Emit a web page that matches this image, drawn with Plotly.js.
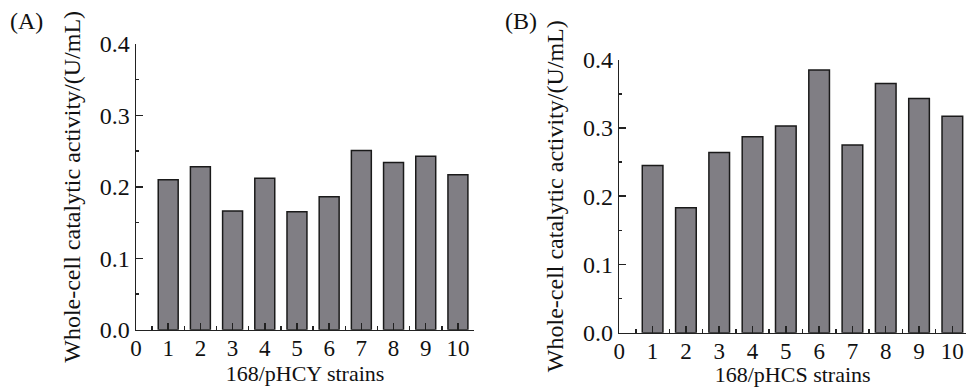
<!DOCTYPE html>
<html>
<head>
<meta charset="utf-8">
<script src="https://cdn.plot.ly/plotly-3.0.1.min.js"></script>
<style>html,body{margin:0;padding:0;background:#fff;}#chart{width:966px;height:387px;}</style>
</head>
<body>
<div id="chart"></div>
<script>
const strains = [1, 2, 3, 4, 5, 6, 7, 8, 9, 10];
const activityA = [0.210, 0.228, 0.166, 0.212, 0.165, 0.186, 0.251, 0.234, 0.243, 0.217];
const activityB = [0.245, 0.183, 0.264, 0.287, 0.303, 0.385, 0.275, 0.365, 0.343, 0.317];
const xTitleA = "168/pHCY strains";
const xTitleB = "168/pHCS strains";
const yTitle = "Whole-cell catalytic activity/(U/mL)";
const panelLabels = ["(A)", "(B)"];

const FONT = "Liberation Serif, Times New Roman, serif";
const barStyle = {color: "#807e84", line: {color: "#1a1a1a", width: 1.5}};

const traces = [
  {type: "bar", x: strains, y: activityA, width: 0.62, marker: barStyle, xaxis: "x", yaxis: "y", hoverinfo: "x+y"},
  {type: "bar", x: strains, y: activityB, width: 0.62, marker: barStyle, xaxis: "x2", yaxis: "y2", hoverinfo: "x+y"}
];

function xAxis(domain, range, title) {
  return {
    domain: domain, range: range, tickmode: "linear", tick0: 0, dtick: 1,
    ticks: "inside", ticklen: 7, tickwidth: 1.5, tickcolor: "#222",
    minor: {dtick: 0.5, tick0: 0, ticks: "inside", ticklen: 4, tickwidth: 1.5, tickcolor: "#222"},
    showline: true, linecolor: "#222", linewidth: 1.5, showgrid: false, zeroline: false,
    tickfont: {family: FONT, size: 23, color: "#111"},
    ticklabelstandoff: -3,
    title: {text: title, font: {family: FONT, size: 22, color: "#111"}, standoff: 4},
    fixedrange: true
  };
}
function yAxis(domain, anchor) {
  return {
    domain: domain, range: [0, 0.4], tickmode: "linear", tick0: 0, dtick: 0.1, tickformat: ".1f",
    anchor: anchor,
    ticks: "inside", ticklen: 7, tickwidth: 1.5, tickcolor: "#222",
    minor: {dtick: 0.05, ticks: "inside", ticklen: 3, tickwidth: 1.5, tickcolor: "#222"},
    showline: true, linecolor: "#222", linewidth: 1.5, showgrid: false, zeroline: false,
    tickfont: {family: FONT, size: 24, color: "#111"},
    title: {text: yTitle, font: {family: FONT, size: 24, color: "#111"}, standoff: 12},
    fixedrange: true
  };
}

const layout = {
  width: 966, height: 387,
  margin: {l: 0, r: 0, t: 0, b: 0},
  paper_bgcolor: "#ffffff", plot_bgcolor: "rgba(0,0,0,0)",
  showlegend: false, bargap: 0.38,
  xaxis: Object.assign(xAxis([0.1408, 0.4907], [0, 10.5], xTitleA), {anchor: "y"}),
  yaxis: yAxis([0.1481, 0.8863], "x"),
  xaxis2: Object.assign(xAxis([0.6411, 1.0], [0, 10.41], xTitleB), {anchor: "y2"}),
  yaxis2: yAxis([0.1403, 0.8457], "x2"),
  annotations: [
    {text: panelLabels[0], xref: "paper", yref: "paper", x: 8/966, y: 1 - 6/387, xanchor: "left", yanchor: "top", showarrow: false, font: {family: FONT, size: 24, color: "#111"}},
    {text: panelLabels[1], xref: "paper", yref: "paper", x: 503/966, y: 1 - 6/387, xanchor: "left", yanchor: "top", showarrow: false, font: {family: FONT, size: 24, color: "#111"}}
  ]
};

Plotly.newPlot("chart", traces, layout, {displayModeBar: false, staticPlot: true});
</script>
</body>
</html>
